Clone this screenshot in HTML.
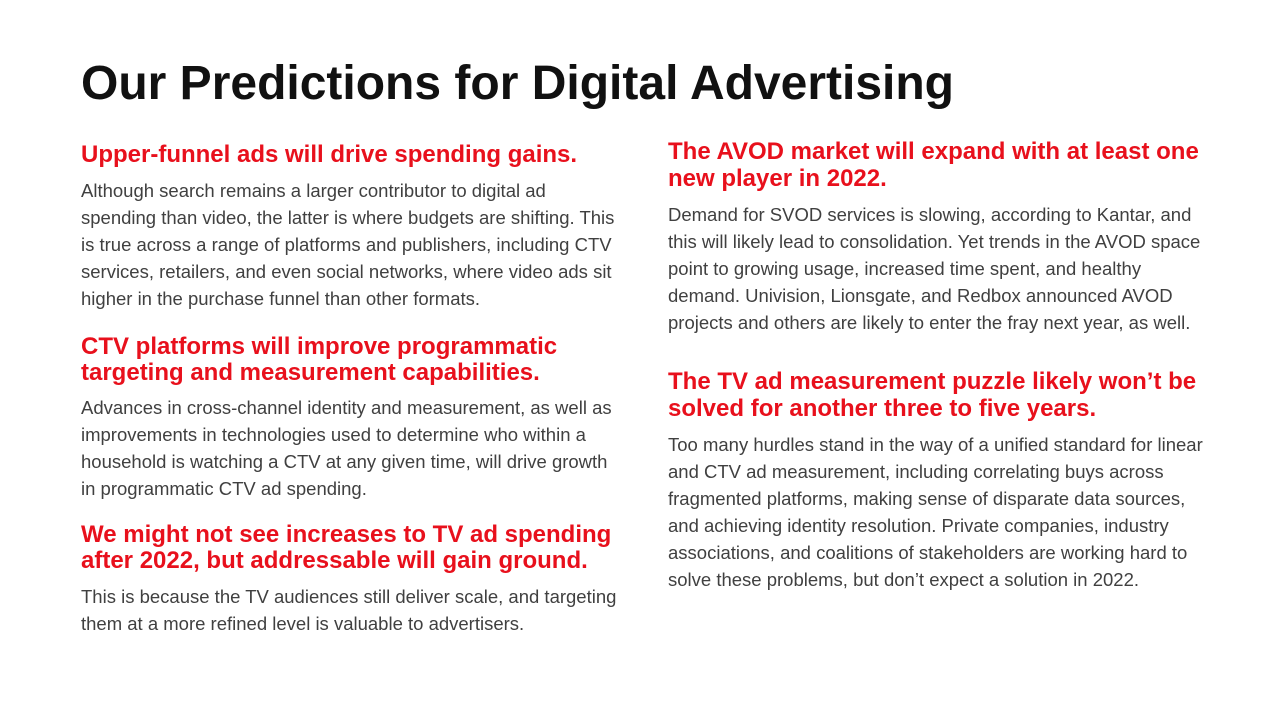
<!DOCTYPE html>
<html><head><meta charset="utf-8"><style>
body{margin:0;width:1280px;height:720px;background:#fff;position:relative;overflow:hidden;font-family:"Liberation Sans",Arial,sans-serif}
.l{position:absolute;white-space:nowrap}
.t{font-size:48px;font-weight:bold;color:#111;line-height:56px}
.h{font-size:24px;font-weight:bold;color:#e8101c;line-height:26px}
.b{font-size:18.5px;color:#404040;line-height:26px}
</style></head><body>
<div class="l t" style="left:81px;top:56px">Our Predictions for Digital Advertising</div>

<div class="l h" style="left:81px;top:142px">Upper-funnel ads will drive spending gains.</div>
<div class="l b" style="left:81px;top:178px">Although search remains a larger contributor to digital ad</div>
<div class="l b" style="left:81px;top:205px">spending than video, the latter is where budgets are shifting. This</div>
<div class="l b" style="left:81px;top:232px">is true across a range of platforms and publishers, including CTV</div>
<div class="l b" style="left:81px;top:259px">services, retailers, and even social networks, where video ads sit</div>
<div class="l b" style="left:81px;top:286px">higher in the purchase funnel than other formats.</div>

<div class="l h" style="left:81px;top:334px">CTV platforms will improve programmatic</div>
<div class="l h" style="left:81px;top:360px">targeting and measurement capabilities.</div>
<div class="l b" style="left:81px;top:395px">Advances in cross-channel identity and measurement, as well as</div>
<div class="l b" style="left:81px;top:422px">improvements in technologies used to determine who within a</div>
<div class="l b" style="left:81px;top:449px">household is watching a CTV at any given time, will drive growth</div>
<div class="l b" style="left:81px;top:476px">in programmatic CTV ad spending.</div>

<div class="l h" style="left:81px;top:522px">We might not see increases to TV ad spending</div>
<div class="l h" style="left:81px;top:548px">after 2022, but addressable will gain ground.</div>
<div class="l b" style="left:81px;top:584px">This is because the TV audiences still deliver scale, and targeting</div>
<div class="l b" style="left:81px;top:611px">them at a more refined level is valuable to advertisers.</div>

<div class="l h" style="left:668px;top:139px">The AVOD market will expand with at least one</div>
<div class="l h" style="left:668px;top:166px">new player in 2022.</div>
<div class="l b" style="left:668px;top:202px">Demand for SVOD services is slowing, according to Kantar, and</div>
<div class="l b" style="left:668px;top:229px">this will likely lead to consolidation. Yet trends in the AVOD space</div>
<div class="l b" style="left:668px;top:256px">point to growing usage, increased time spent, and healthy</div>
<div class="l b" style="left:668px;top:283px">demand. Univision, Lionsgate, and Redbox announced AVOD</div>
<div class="l b" style="left:668px;top:310px">projects and others are likely to enter the fray next year, as well.</div>

<div class="l h" style="left:668px;top:369px">The TV ad measurement puzzle likely won’t be</div>
<div class="l h" style="left:668px;top:396px">solved for another three to five years.</div>
<div class="l b" style="left:668px;top:432px">Too many hurdles stand in the way of a unified standard for linear</div>
<div class="l b" style="left:668px;top:459px">and CTV ad measurement, including correlating buys across</div>
<div class="l b" style="left:668px;top:486px">fragmented platforms, making sense of disparate data sources,</div>
<div class="l b" style="left:668px;top:513px">and achieving identity resolution. Private companies, industry</div>
<div class="l b" style="left:668px;top:540px">associations, and coalitions of stakeholders are working hard to</div>
<div class="l b" style="left:668px;top:567px">solve these problems, but don’t expect a solution in 2022.</div>
</body></html>
